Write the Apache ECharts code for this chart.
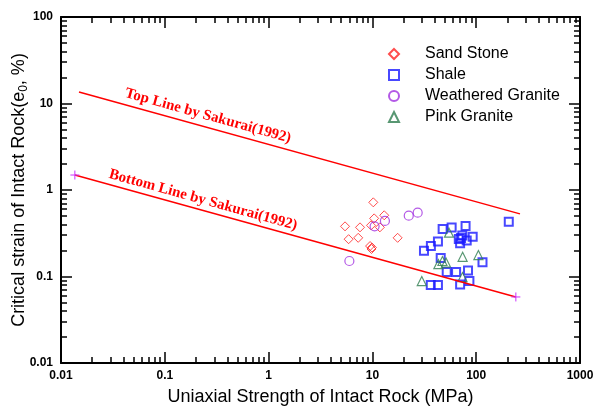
<!DOCTYPE html>
<html>
<head>
<meta charset="utf-8">
<script src="https://cdn.jsdelivr.net/npm/echarts@6/dist/echarts.min.js"></script>
<style>
  html, body { margin: 0; padding: 0; background: #fff; }
  #main { width: 594px; height: 408px; }
</style>
</head>
<body>
<div id="main"></div>
<script>
// values: [strength MPa, critical strain %]
var sandStone = [
  [10.2, 0.72], [10.4, 0.47], [13.0, 0.51], [5.45, 0.38], [7.6, 0.37],
  [9.7, 0.39], [11.8, 0.37], [5.9, 0.27], [7.3, 0.28], [17.5, 0.28],
  [9.5, 0.225], [9.8, 0.208], [9.9, 0.216]
];
var shale = [
  [47.5, 0.354], [58, 0.368], [79, 0.384], [206, 0.43], [73.5, 0.298],
  [68, 0.271], [70, 0.242], [81, 0.26], [92.5, 0.288], [42.8, 0.254],
  [36.6, 0.225], [31.4, 0.198], [45.5, 0.164], [115, 0.146], [52, 0.113],
  [64, 0.113], [83.4, 0.117], [86, 0.089], [70, 0.081], [36.5, 0.08],
  [42.8, 0.08], [71.5, 0.279]
];
var weatheredGranite = [
  [22.4, 0.505], [27.3, 0.547], [13.2, 0.439], [10.5, 0.38], [6.0, 0.151]
];
var pinkGranite = [
  [54.7, 0.321], [74, 0.169], [105, 0.177], [43.2, 0.139], [47.3, 0.151],
  [51.2, 0.145], [29.9, 0.0885], [73.8, 0.0986]
];
// Sakurai (1992) bounds, end points
var topLine = [[0.0149, 13.6], [264, 0.53]];
var bottomLine = [[0.0136, 1.49], [241, 0.058]];

var myChart = echarts.init(document.getElementById("main"));

function logAxis(min, max) {
  return {
    type: "log",
    min: min,
    max: max,
    logBase: 10,
    axisLine: { show: true, lineStyle: { color: "#000", width: 2 } },
    axisTick: { show: true, inside: true, length: 11, lineStyle: { color: "#000", width: 1.5 } },
    minorTick: { show: true, splitNumber: 9, length: 6, lineStyle: { color: "#000", width: 1.5 } },
    splitLine: { show: false },
    minorSplitLine: { show: false }
  };
}

var labelFont = {
  color: "#000",
  fontFamily: "Arial, Liberation Sans",
  fontWeight: "bold",
  fontSize: 12,
  formatter: function (v) { return String(v); }
};

var option = {
  animation: false,
  backgroundColor: "#fff",
  grid: { left: 61, right: 14, top: 17, bottom: 45, containLabel: false, outerBoundsMode: "none" },
  legend: {
    orient: "vertical",
    left: 383,
    top: 41,
    itemWidth: 10,
    itemHeight: 10,
    itemGap: 5,
    textStyle: {
      fontFamily: "Arial, Liberation Sans",
      fontSize: 16,
      lineHeight: 16,
      color: "#000",
      padding: [0, 0, 0, 21]
    },
    data: ["Sand Stone", "Shale", "Weathered Granite", "Pink Granite"]
  },
  xAxis: [
    Object.assign(logAxis(0.01, 1000), {
      position: "bottom",
      axisLabel: Object.assign({ margin: 7 }, labelFont),
      name: "Uniaxial Strength of Intact Rock (MPa)",
      nameLocation: "middle",
      nameGap: 25,
      nameTextStyle: { fontFamily: "Arial, Liberation Sans", fontSize: 18, color: "#000" }
    }),
    Object.assign(logAxis(0.01, 1000), { position: "top", axisLabel: { show: false } })
  ],
  yAxis: [
    Object.assign(logAxis(0.01, 100), {
      position: "left",
      axisLabel: Object.assign({ margin: 8 }, labelFont),
      name: "{a|Critical strain of Intact Rock(e}{s|0}{a|, %)}",
      nameLocation: "middle",
      nameGap: 31,
      nameMoveOverlap: false,
      nameTextStyle: {
        rich: {
          a: { fontFamily: "Arial, Liberation Sans", fontSize: 18, color: "#000" },
          s: { fontFamily: "Arial, Liberation Sans", fontSize: 12, color: "#000", padding: [9, 0, 0, 0] }
        }
      }
    }),
    Object.assign(logAxis(0.01, 100), { position: "right", axisLabel: { show: false } })
  ],
  series: [
    {
      name: "Top Line",
      type: "line",
      data: topLine,
      showSymbol: false,
      lineStyle: { color: "#ff0000", width: 1.5 },
      itemStyle: { color: "#ff0000" },
      silent: true
    },
    {
      name: "Bottom Line",
      type: "line",
      data: bottomLine,
      symbol: "path://M0,5L10,5M5,0L5,10",
      symbolSize: 9,
      itemStyle: { color: "#cc33ff", borderColor: "#cc33ff", borderWidth: 1 },
      lineStyle: { color: "#ff0000", width: 1.5 },
      silent: true
    },
    {
      name: "Sand Stone",
      type: "scatter",
      data: sandStone,
      symbol: "diamond",
      symbolSize: 9,
      itemStyle: { color: "rgba(255,255,255,0)", borderColor: "#ff2020", borderWidth: 1 }
    },
    {
      name: "Shale",
      type: "scatter",
      data: shale,
      symbol: "rect",
      symbolSize: 8,
      itemStyle: { color: "rgba(255,255,255,0)", borderColor: "#1a1aff", borderWidth: 2 }
    },
    {
      name: "Weathered Granite",
      type: "scatter",
      data: weatheredGranite,
      symbol: "circle",
      symbolSize: 9,
      itemStyle: { color: "rgba(255,255,255,0)", borderColor: "#a030e0", borderWidth: 1.2 }
    },
    {
      name: "Pink Granite",
      type: "scatter",
      data: pinkGranite,
      symbol: "triangle",
      symbolSize: 9,
      itemStyle: { color: "rgba(255,255,255,0)", borderColor: "#2e7d4f", borderWidth: 1.2 }
    }
  ],
  graphic: [
    {
      type: "text",
      x: 208,
      y: 116,
      rotation: -15.5 * Math.PI / 180,
      style: {
        text: "Top Line by Sakurai(1992)",
        x: 0, y: 0,
        align: "center",
        verticalAlign: "middle",
        fill: "#ff0000",
        font: "bold 15px 'Liberation Serif', 'Times New Roman', serif"
      }
    },
    {
      type: "text",
      x: 203,
      y: 200,
      rotation: -15.5 * Math.PI / 180,
      style: {
        text: "Bottom Line by Sakurai(1992)",
        x: 0, y: 0,
        align: "center",
        verticalAlign: "middle",
        fill: "#ff0000",
        font: "bold 15px 'Liberation Serif', 'Times New Roman', serif"
      }
    }
  ]
};

myChart.setOption(option);
</script>
</body>
</html>
